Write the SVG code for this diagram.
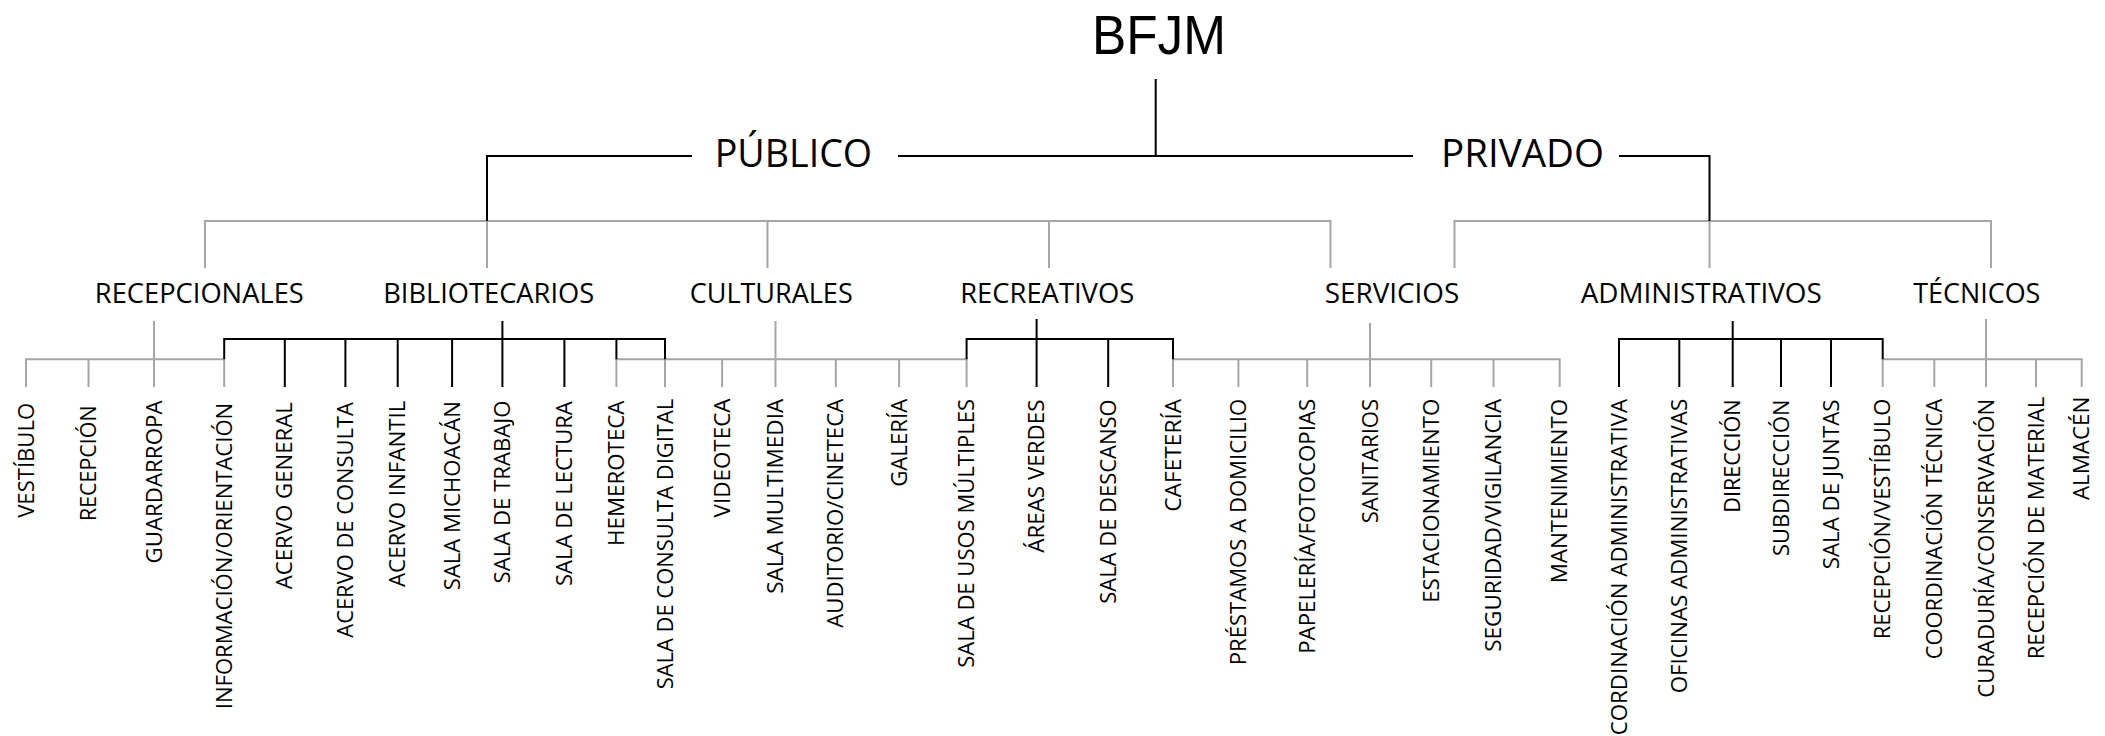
<svg xmlns="http://www.w3.org/2000/svg" width="2105" height="736" viewBox="0 0 2105 736">
<style>
text{font-family:"Open Sans","Noto Sans","Liberation Sans",sans-serif;fill:#000}
.root{font-family:"Liberation Sans","Open Sans",sans-serif;font-size:56px;text-anchor:middle}
.l1{font-size:38px;text-anchor:middle}
.l2{font-size:28px;text-anchor:middle}
.leaf{font-size:21px;text-anchor:end}
.k{stroke:#000;stroke-width:2;fill:none}
.g{stroke:#a6a6a6;stroke-width:2;fill:none}
</style>
<rect width="2105" height="736" fill="#fff"/>
<g id="connectors">
  <g class="g">
    <path d="M205,268V221H1330.5V268M487,221V268M767.5,221V268M1049,221V268"/>
    <path d="M1454.5,268V221H1991V268M1709.5,221V268"/>
    <path d="M154,321V387M26,387V359.3H224.2V387M88.5,359.3V387"/>
    <path d="M775.5,321V387M616.4,387V359.3H966.6V387M665,359.3V387M722.1,359.3V387M835.8,359.3V387M899.1,359.3V387"/>
    <path d="M1370,323V387M1173,387V359.3H1559.7V387M1238.4,359.3V387M1307.2,359.3V387M1431.2,359.3V387M1493.5,359.3V387"/>
    <path d="M1986,319V387M1882.7,387V359.3H2081.7V387M1934.3,359.3V387M2036,359.3V387"/>
  </g>
  <g class="k">
    <path d="M1155.7,79V156"/>
    <path d="M692,156H487V221"/>
    <path d="M898,156H1413"/>
    <path d="M1619,156H1709.5V221"/>
    <path d="M502.4,321V387M224.2,359.3V339H665V359.3M284.8,339V387M345.4,339V387M397.7,339V387M452.1,339V387M564.4,339V387M616.4,339V359.3"/>
    <path d="M1036.6,319V387M966.6,359.3V339H1173V359.3M1108.2,339V387"/>
    <path d="M1732.7,321V387M1619,387V339H1882.7V359.3M1679.3,339V387M1781,339V387M1831,339V387"/>
  </g>
</g>
<g id="n-bfjm"><text class="root" x="1159" y="53.5" textLength="134" lengthAdjust="spacingAndGlyphs">BFJM</text></g>
<g id="n-publico"><text class="l1" x="793.4" y="167.3" textLength="157.5" lengthAdjust="spacingAndGlyphs">PÚBLICO</text></g>
<g id="n-privado"><text class="l1" x="1522.5" y="167.3" textLength="163" lengthAdjust="spacingAndGlyphs">PRIVADO</text></g>
<g id="n-recepcionales"><text class="l2" x="199.3" y="302.7" textLength="209" lengthAdjust="spacingAndGlyphs">RECEPCIONALES</text></g>
<g id="n-bibliotecarios"><text class="l2" x="488.7" y="302.7" textLength="211" lengthAdjust="spacingAndGlyphs">BIBLIOTECARIOS</text></g>
<g id="n-culturales"><text class="l2" x="771.2" y="302.7" textLength="163" lengthAdjust="spacingAndGlyphs">CULTURALES</text></g>
<g id="n-recreativos"><text class="l2" x="1047.2" y="302.7" textLength="174" lengthAdjust="spacingAndGlyphs">RECREATIVOS</text></g>
<g id="n-servicios"><text class="l2" x="1392" y="302.7" textLength="134.5" lengthAdjust="spacingAndGlyphs">SERVICIOS</text></g>
<g id="n-administrativos"><text class="l2" x="1701.2" y="302.7" textLength="241" lengthAdjust="spacingAndGlyphs">ADMINISTRATIVOS</text></g>
<g id="n-tecnicos"><text class="l2" x="1976.8" y="302.7" textLength="127" lengthAdjust="spacingAndGlyphs">TÉCNICOS</text></g>

<g id="n-vestibulo"><text class="leaf" transform="translate(33.5,402.8) rotate(-90)" textLength="115" lengthAdjust="spacingAndGlyphs">VESTÍBULO</text></g>
<g id="n-recepcion"><text class="leaf" transform="translate(96,405.5) rotate(-90)" textLength="115.5" lengthAdjust="spacingAndGlyphs">RECEPCIÓN</text></g>
<g id="n-guardarropa"><text class="leaf" transform="translate(161.5,400.5) rotate(-90)" textLength="163" lengthAdjust="spacingAndGlyphs">GUARDARROPA</text></g>
<g id="n-informacion"><text class="leaf" transform="translate(231.7,402.8) rotate(-90)" textLength="306.5" lengthAdjust="spacingAndGlyphs">INFORMACIÓN/ORIENTACIÓN</text></g>
<g id="n-acervo-general"><text class="leaf" transform="translate(292.3,402.2) rotate(-90)" textLength="187" lengthAdjust="spacingAndGlyphs">ACERVO GENERAL</text></g>
<g id="n-acervo-consulta"><text class="leaf" transform="translate(352.9,402.2) rotate(-90)" textLength="235.5" lengthAdjust="spacingAndGlyphs">ACERVO DE CONSULTA</text></g>
<g id="n-acervo-infantil"><text class="leaf" transform="translate(405.2,400.5) rotate(-90)" textLength="186.5" lengthAdjust="spacingAndGlyphs">ACERVO INFANTIL</text></g>
<g id="n-sala-michoacan"><text class="leaf" transform="translate(459.6,401.2) rotate(-90)" textLength="189" lengthAdjust="spacingAndGlyphs">SALA MICHOACÁN</text></g>
<g id="n-sala-trabajo"><text class="leaf" transform="translate(509.9,400.5) rotate(-90)" textLength="183" lengthAdjust="spacingAndGlyphs">SALA DE TRABAJO</text></g>
<g id="n-sala-lectura"><text class="leaf" transform="translate(571.9,401.2) rotate(-90)" textLength="184.8" lengthAdjust="spacingAndGlyphs">SALA DE LECTURA</text></g>
<g id="n-hemeroteca"><text class="leaf" transform="translate(623.9,400.5) rotate(-90)" textLength="145.5" lengthAdjust="spacingAndGlyphs">HEMEROTECA</text></g>
<g id="n-consulta-digital"><text class="leaf" transform="translate(672.5,398.8) rotate(-90)" textLength="290.5" lengthAdjust="spacingAndGlyphs">SALA DE CONSULTA DIGITAL</text></g>
<g id="n-videoteca"><text class="leaf" transform="translate(729.6,398.5) rotate(-90)" textLength="119" lengthAdjust="spacingAndGlyphs">VIDEOTECA</text></g>
<g id="n-multimedia"><text class="leaf" transform="translate(783,398.8) rotate(-90)" textLength="195" lengthAdjust="spacingAndGlyphs">SALA MULTIMEDIA</text></g>
<g id="n-auditorio"><text class="leaf" transform="translate(843.3,398.8) rotate(-90)" textLength="229" lengthAdjust="spacingAndGlyphs">AUDITORIO/CINETECA</text></g>
<g id="n-galeria"><text class="leaf" transform="translate(906.6,398.8) rotate(-90)" textLength="88" lengthAdjust="spacingAndGlyphs">GALERÍA</text></g>
<g id="n-usos-multiples"><text class="leaf" transform="translate(974.1,398.8) rotate(-90)" textLength="269" lengthAdjust="spacingAndGlyphs">SALA DE USOS MÚLTIPLES</text></g>
<g id="n-areas-verdes"><text class="leaf" transform="translate(1044.1,399.5) rotate(-90)" textLength="153.2" lengthAdjust="spacingAndGlyphs">ÁREAS VERDES</text></g>
<g id="n-descanso"><text class="leaf" transform="translate(1115.7,399.5) rotate(-90)" textLength="204.2" lengthAdjust="spacingAndGlyphs">SALA DE DESCANSO</text></g>
<g id="n-cafeteria"><text class="leaf" transform="translate(1180.5,398.8) rotate(-90)" textLength="113" lengthAdjust="spacingAndGlyphs">CAFETERÍA</text></g>
<g id="n-prestamos"><text class="leaf" transform="translate(1245.9,398.8) rotate(-90)" textLength="266.5" lengthAdjust="spacingAndGlyphs">PRÉSTAMOS A DOMICILIO</text></g>
<g id="n-papeleria"><text class="leaf" transform="translate(1314.7,398.8) rotate(-90)" textLength="255" lengthAdjust="spacingAndGlyphs">PAPELERÍA/FOTOCOPIAS</text></g>
<g id="n-sanitarios"><text class="leaf" transform="translate(1377.5,398.8) rotate(-90)" textLength="124.5" lengthAdjust="spacingAndGlyphs">SANITARIOS</text></g>
<g id="n-estacionamiento"><text class="leaf" transform="translate(1438.7,398.8) rotate(-90)" textLength="204" lengthAdjust="spacingAndGlyphs">ESTACIONAMIENTO</text></g>
<g id="n-seguridad"><text class="leaf" transform="translate(1501,398.8) rotate(-90)" textLength="253" lengthAdjust="spacingAndGlyphs">SEGURIDAD/VIGILANCIA</text></g>
<g id="n-mantenimiento"><text class="leaf" transform="translate(1567.2,398.8) rotate(-90)" textLength="184.5" lengthAdjust="spacingAndGlyphs">MANTENIMIENTO</text></g>
<g id="n-cordinacion-adm"><text class="leaf" transform="translate(1626.5,398.8) rotate(-90)" textLength="336.5" lengthAdjust="spacingAndGlyphs">CORDINACIÓN ADMINISTRATIVA</text></g>
<g id="n-oficinas"><text class="leaf" transform="translate(1686.8,398.8) rotate(-90)" textLength="294.5" lengthAdjust="spacingAndGlyphs">OFICINAS ADMINISTRATIVAS</text></g>
<g id="n-direccion"><text class="leaf" transform="translate(1740.2,399.5) rotate(-90)" textLength="113.2" lengthAdjust="spacingAndGlyphs">DIRECCIÓN</text></g>
<g id="n-subdireccion"><text class="leaf" transform="translate(1788.5,399.5) rotate(-90)" textLength="156.5" lengthAdjust="spacingAndGlyphs">SUBDIRECCIÓN</text></g>
<g id="n-sala-juntas"><text class="leaf" transform="translate(1838.5,399.5) rotate(-90)" textLength="169.8" lengthAdjust="spacingAndGlyphs">SALA DE JUNTAS</text></g>
<g id="n-recepcion-vestibulo"><text class="leaf" transform="translate(1890.2,398.8) rotate(-90)" textLength="240.5" lengthAdjust="spacingAndGlyphs">RECEPCIÓN/VESTÍBULO</text></g>
<g id="n-coord-tecnica"><text class="leaf" transform="translate(1941.8,398.8) rotate(-90)" textLength="260.5" lengthAdjust="spacingAndGlyphs">COORDINACIÓN TÉCNICA</text></g>
<g id="n-curaduria"><text class="leaf" transform="translate(1993.5,398.8) rotate(-90)" textLength="299" lengthAdjust="spacingAndGlyphs">CURADURÍA/CONSERVACIÓN</text></g>
<g id="n-recepcion-material"><text class="leaf" transform="translate(2043.5,396.8) rotate(-90)" textLength="262.5" lengthAdjust="spacingAndGlyphs">RECEPCIÓN DE MATERIAL</text></g>
<g id="n-almacen"><text class="leaf" transform="translate(2089.2,396.8) rotate(-90)" textLength="103.2" lengthAdjust="spacingAndGlyphs">ALMACÉN</text></g>
</svg>
